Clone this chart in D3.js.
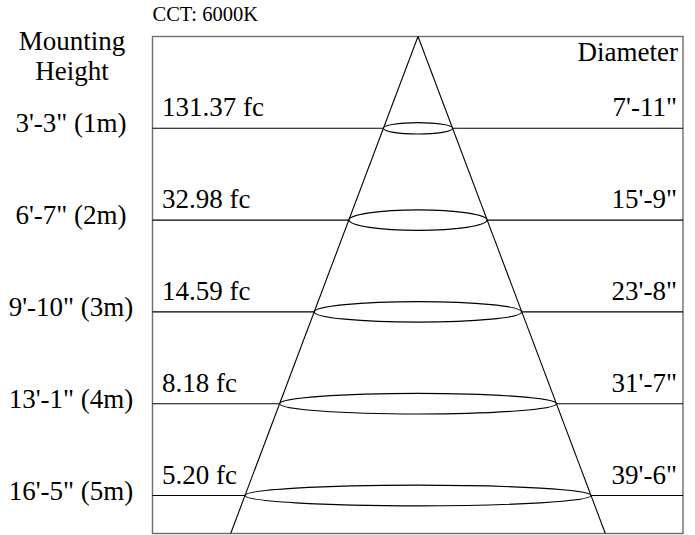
<!DOCTYPE html>
<html>
<head>
<meta charset="utf-8">
<script src="https://cdn.jsdelivr.net/npm/d3@7"></script>
<style>
  html, body { margin: 0; padding: 0; background: #fff; }
  svg { display: block; }
  text { font-family: "Liberation Serif", "Times New Roman", serif; fill: #000; }
</style>
</head>
<body>
<svg id="chart" width="695" height="535"></svg>
<script>
// ---- data ----
const cctLabel = "CCT: 6000K";
const heightsM = [1, 2, 3, 4, 5];
const heightLabels = ["3'-3\" (1m)", "6'-7\" (2m)", "9'-10\" (3m)", "13'-1\" (4m)", "16'-5\" (5m)"];
const illuminanceFc = [131.37, 32.98, 14.59, 8.18, 5.20];
const diameterLabels = ["7'-11\"", "15'-9\"", "23'-8\"", "31'-7\"", "39'-6\""];
const diameterInches = [95, 189, 284, 379, 474];

// ---- layout ----
const svg = d3.select("#chart");
const box = { left: 152.5, right: 683, top: 36.5, bottom: 533.5 };
const cx = 418;
const fontMain = 27;

const y = d3.scaleLinear().domain([0, 5]).range([box.top, 495.5]);
const r = d3.scaleLinear().domain([0, 237]).range([0, 173]); // radius in inches -> px

const rows = heightsM.map((h, i) => ({
  h, hl: heightLabels[i], fc: illuminanceFc[i], dl: diameterLabels[i], d: diameterInches[i]
}));

// box
svg.append("rect")
  .attr("x", box.left).attr("y", box.top)
  .attr("width", box.right - box.left).attr("height", box.bottom - box.top)
  .attr("fill", "#fff").attr("stroke", "#6e6e6e").attr("stroke-width", 1.4);

// horizontal lines
svg.selectAll("line.row").data(rows).join("line")
  .attr("class", "row")
  .attr("x1", box.left).attr("x2", box.right)
  .attr("y1", d => y(d.h)).attr("y2", d => y(d.h))
  .attr("stroke", "#000").attr("stroke-width", 1.1);

// cone edges, extended to the bottom of the box along the beam spread
const last = rows[rows.length - 1];
const hBottom = y.invert(box.bottom);
const radiusPerM = (last.d / 2) / last.h;
const rb = r(radiusPerM * hBottom);
[-1, 1].forEach(s => {
  svg.append("line")
    .attr("x1", cx).attr("y1", y(0))
    .attr("x2", cx + s * rb).attr("y2", box.bottom)
    .attr("stroke", "#000").attr("stroke-width", 1.1);
});

// ellipses
svg.selectAll("ellipse").data(rows).join("ellipse")
  .attr("cx", cx).attr("cy", d => y(d.h))
  .attr("rx", d => r(d.d / 2))
  .attr("ry", d => Math.min(10.3, r(d.d / 2) * 0.165))
  .attr("fill", "#fff").attr("stroke", "#000").attr("stroke-width", 1.2);

// CCT label
svg.append("text").attr("x", box.left).attr("y", 21)
  .style("font-size", "20.5px").text(cctLabel);

// left header
svg.append("text").attr("x", 72).attr("y", 50).attr("text-anchor", "middle")
  .style("font-size", fontMain + "px").text("Mounting");
svg.append("text").attr("x", 72).attr("y", 80).attr("text-anchor", "middle")
  .style("font-size", fontMain + "px").text("Height");

// right header
svg.append("text").attr("x", 678).attr("y", 61).attr("text-anchor", "end")
  .style("font-size", fontMain + "px").text("Diameter");

// height labels
svg.selectAll("text.hl").data(rows).join("text")
  .attr("class", "hl")
  .attr("x", 71).attr("y", d => y(d.h) + 4)
  .attr("text-anchor", "middle")
  .style("font-size", fontMain + "px").text(d => d.hl);

// illuminance labels
const fmt = d3.format(".2f");
svg.selectAll("text.fc").data(rows).join("text")
  .attr("class", "fc")
  .attr("x", 162).attr("y", d => y(d.h) - 12)
  .style("font-size", fontMain + "px").text(d => fmt(d.fc) + " fc");

// diameter labels
svg.selectAll("text.dl").data(rows).join("text")
  .attr("class", "dl")
  .attr("x", 677).attr("y", d => y(d.h) - 12)
  .attr("text-anchor", "end")
  .style("font-size", fontMain + "px").text(d => d.dl);
</script>
</body>
</html>
